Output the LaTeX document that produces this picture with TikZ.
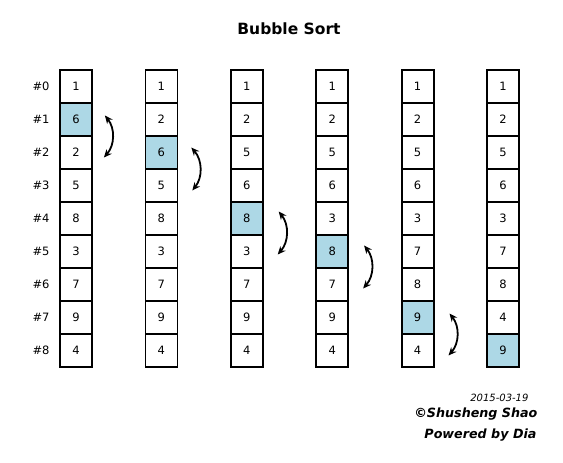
\documentclass[tikz,border=0pt]{standalone}
\usepackage{fontspec}
\setmainfont{DejaVu Sans}
\usetikzlibrary{arrows.meta}
\definecolor{cellblue}{RGB}{173,216,230}
\begin{document}
\begin{tikzpicture}[x=1pt,y=-1pt]
      \tikzset{cell/.style={draw,line width=1.8pt,minimum width=32pt,minimum height=33pt,inner sep=0pt,font=\fontsize{11.5}{13}\selectfont},
               rowlbl/.style={font=\fontsize{11.5}{13}\selectfont},
               swap/.style={{Stealth[length=8pt,width=7pt]}-{Stealth[length=8pt,width=7pt]},line width=1.8pt,bend left=40}}
        \path[use as bounding box] (0,0) rectangle (563,463);
        \node[font=\fontsize{15.5}{18}\selectfont\bfseries] (title) at (289,29) {Bubble Sort};

        \foreach \r in {0,...,8}
        \node[rowlbl] (lbl\r) at (41,86.5+33*\r) {\#\r};

        % one column per pass
        \foreach \c/\vals/\h in {1/{1,6,2,5,8,3,7,9,4}/1,2/{1,2,6,5,8,3,7,9,4}/2,
                                 3/{1,2,5,6,8,3,7,9,4}/4,4/{1,2,5,6,3,8,7,9,4}/5,
                                 5/{1,2,5,6,3,7,8,9,4}/7,6/{1,2,5,6,3,7,8,4,9}/8}
       { \foreach \v [count=\r from 0] in \vals
          { \ifnum\r=\h \def\cc{cellblue}\else\def\cc{white}\fi
            \node[cell,fill=\cc] (c\c-\r) at (76+85.4*\c-85.4,86.5+33*\r) {\v}; } }

       \draw[swap] ([shift={(12,-4)}]c1-1.east) to ([shift={(11,5)}]c1-2.east);
       \draw[swap] ([shift={(13,-5)}]c2-2.east) to ([shift={(14,5)}]c2-3.east);
       \draw[swap] ([shift={(15,-7)}]c3-4.east) to ([shift={(14,3)}]c3-5.east);
       \draw[swap] ([shift={(15,-6)}]c4-5.east) to ([shift={(14,4)}]c4-6.east);
       \draw[swap] ([shift={(15,-4)}]c5-7.east) to ([shift={(14,5)}]c5-8.east);

       \node[anchor=east,font=\fontsize{10}{12}\selectfont\itshape] (date) at (532,398) {2015-03-19};
       \node[anchor=east,font=\fontsize{12.7}{14}\selectfont\bfseries\itshape] (auth) at (541,414) {©Shusheng Shao};
       \node[anchor=east,font=\fontsize{12.7}{14}\selectfont\bfseries\itshape] (dia) at (540,435) {Powered by Dia};
    \end{tikzpicture}
\end{document}
